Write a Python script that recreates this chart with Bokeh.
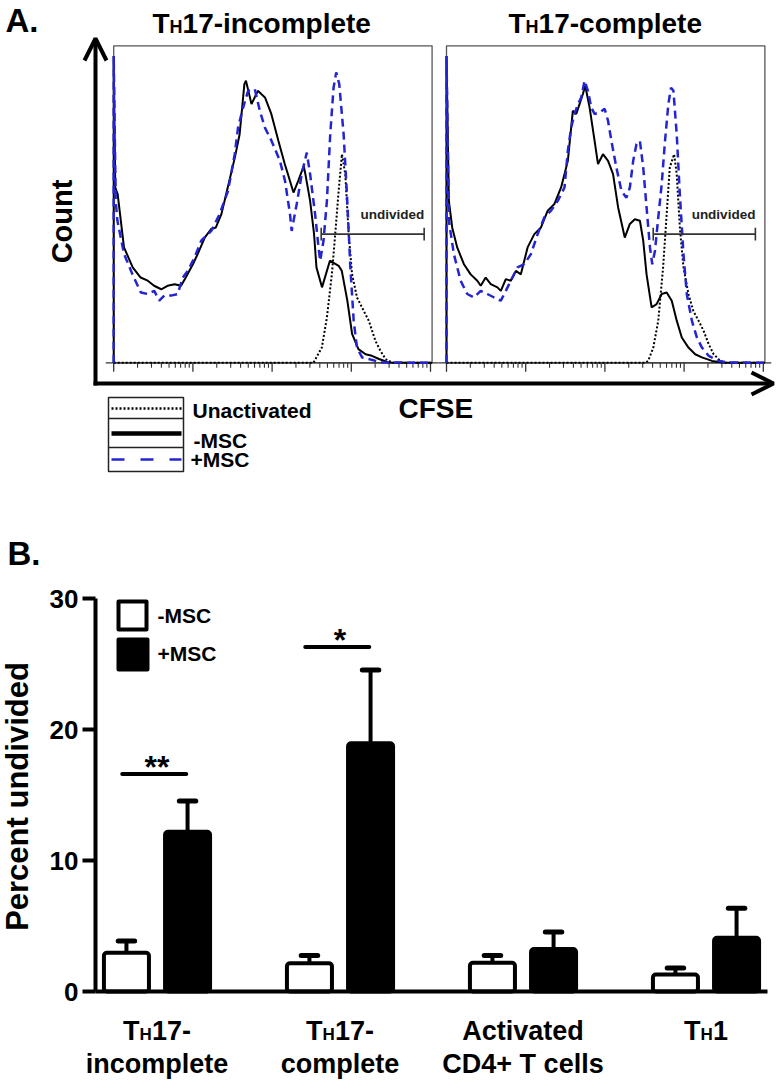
import math
from bokeh.plotting import figure
from bokeh.models import Range1d, Arrow, OpenHead, LinearAxis, FixedTicker
from bokeh.embed import file_html
from bokeh.resources import INLINE
from bokeh.core.properties import value

FONT = "Liberation Sans"
BLUE = "#2424d2"

# ---------------- Panel A data (CFSE in decades, count in % of panel height) ----------------
panel_titles = ["TH17-incomplete", "TH17-complete"]
legend_a = ["Unactivated", "-MSC", "+MSC"]

inc_unact_x = [0.0, 2.522, 2.628, 2.692, 2.755, 2.797, 2.840, 2.882, 2.924, 2.967, 3.009, 3.072,
               3.157, 3.220, 3.263, 3.305, 3.368, 3.432, 3.517, 4.02]
inc_unact_y = [0, 0, 4.8, 14.3, 28.0, 40.6, 54.2, 65.8, 59.5, 40.6, 28.0, 20.6,
               16.4, 13.3, 10.1, 6.9, 3.8, 1.2, 0, 0]

inc_minus_x = [0.0, 0.0, 0.02, 0.05, 0.13, 0.24, 0.34, 0.43, 0.51, 0.60, 0.68, 0.77, 0.85, 0.91, 1.00,
               1.06, 1.15, 1.23, 1.29, 1.36, 1.44, 1.53, 1.59, 1.65, 1.67, 1.74, 1.82, 1.91, 1.99, 2.08,
               2.16, 2.20, 2.27, 2.33, 2.40, 2.42, 2.48, 2.53, 2.56, 2.63, 2.73, 2.84, 2.88, 2.95, 3.01,
               3.09, 3.18, 3.26, 3.35, 3.47, 4.02]
inc_minus_y = [0, 96.8, 55.3, 53.2, 36.4, 30.1, 26.9, 25.9, 24.3, 23.2, 24.3, 24.8, 24.3, 26.9, 31.1,
               34.3, 39.5, 42.2, 42.7, 46.9, 55.3, 64.8, 72.1, 87.9, 89.0, 81.6, 85.8, 83.7, 78.5, 70.0,
               62.7, 59.5, 53.7, 57.4, 62.1, 59.5, 51.1, 40.6, 30.1, 23.8, 32.2, 30.6, 29.0, 19.6, 9.1,
               4.3, 2.7, 2.2, 1.2, 0.1, 0]

inc_plus_x = [0.0, 0.0, 0.025, 0.047, 0.131, 0.237, 0.343, 0.427, 0.512, 0.575, 0.639, 0.723, 0.808,
              0.872, 0.935, 1.020, 1.105, 1.232, 1.337, 1.443, 1.528, 1.570, 1.634, 1.697, 1.782, 1.845,
              1.909, 1.993, 2.099, 2.163, 2.226, 2.247, 2.311, 2.374, 2.438, 2.480, 2.543, 2.586, 2.607,
              2.649, 2.692, 2.734, 2.776, 2.810, 2.848, 2.903, 2.945, 2.988, 3.030, 3.072, 3.136, 3.220,
              3.305, 3.390, 4.02]
inc_plus_y = [0, 96.8, 51.1, 44.8, 34.3, 27.9, 22.2, 21.7, 22.7, 19.6, 21.2, 21.2, 21.7, 26.9, 29.0,
              33.2, 38.5, 41.6, 46.9, 54.2, 65.8, 74.2, 80.5, 85.8, 86.3, 79.5, 74.2, 70.0, 63.7, 57.4,
              46.9, 41.6, 50.1, 59.5, 66.3, 59.5, 46.9, 36.4, 32.2, 38.5, 51.1, 72.1, 86.8, 91.6, 87.9,
              72.1, 53.2, 30.1, 13.3, 4.8, 1.7, 1.2, 0.6, 0.1, 0]

comp_unact_x = [0.0, 2.505, 2.547, 2.611, 2.674, 2.735, 2.780, 2.819, 2.874, 2.907, 2.946, 2.992,
                3.055, 3.116, 3.182, 3.246, 3.310, 3.373, 3.458, 3.517, 4.02]
comp_unact_y = [0, 0, 0.6, 4.8, 13.3, 30.1, 46.9, 61.6, 65.8, 59.5, 42.7, 30.1,
                21.7, 16.4, 13.3, 10.1, 5.9, 2.7, 0.6, 0, 0]

comp_minus_x = [0.0, 0.0, 0.030, 0.072, 0.135, 0.220, 0.305, 0.389, 0.432, 0.495, 0.559, 0.643, 0.686,
                0.749, 0.812, 0.876, 0.939, 1.024, 1.109, 1.193, 1.278, 1.363, 1.447, 1.532, 1.595,
                1.638, 1.680, 1.722, 1.752, 1.807, 1.870, 1.913, 1.976, 2.040, 2.103, 2.167, 2.251,
                2.315, 2.378, 2.442, 2.484, 2.526, 2.590, 2.653, 2.717, 2.780, 2.844, 2.907, 2.971,
                3.055, 3.140, 3.225, 3.352, 3.478, 4.02]
comp_minus_y = [0, 96.8, 51.1, 42.7, 36.4, 31.1, 27.9, 25.9, 24.3, 26.9, 24.8, 23.8, 22.7, 26.4, 25.9,
                29.0, 27.9, 36.4, 40.6, 42.7, 48.0, 50.1, 55.3, 63.7, 79.5, 78.5, 81.6, 84.8, 87.4,
                80.5, 70.0, 62.7, 65.8, 63.7, 59.5, 49.0, 39.5, 43.8, 45.3, 44.8, 38.5, 27.9, 17.5,
                18.5, 21.7, 22.2, 19.6, 13.3, 8.0, 4.8, 2.7, 1.7, 0.6, 0.1, 0]

comp_plus_x = [0.0, 0.0, 0.030, 0.093, 0.178, 0.262, 0.347, 0.432, 0.516, 0.601, 0.686, 0.749, 0.812,
               0.897, 0.982, 1.066, 1.151, 1.236, 1.320, 1.405, 1.490, 1.532, 1.574, 1.617, 1.659,
               1.701, 1.744, 1.786, 1.828, 1.870, 1.934, 1.997, 2.040, 2.082, 2.145, 2.209, 2.272,
               2.315, 2.357, 2.399, 2.442, 2.484, 2.526, 2.569, 2.598, 2.632, 2.674, 2.717, 2.759,
               2.801, 2.835, 2.865, 2.907, 2.946, 2.992, 3.034, 3.098, 3.161, 3.225, 3.310, 3.437,
               3.560, 4.02]
comp_plus_y = [0, 96.8, 44.8, 34.3, 25.9, 21.7, 20.6, 22.7, 21.7, 20.6, 19.6, 22.7, 25.9, 30.1, 31.1,
               34.3, 40.6, 45.9, 48.0, 51.1, 55.3, 66.9, 74.2, 78.5, 81.6, 83.7, 89.0, 85.8, 80.5,
               78.5, 79.0, 80.1, 76.3, 70.0, 61.6, 54.2, 52.1, 55.3, 63.7, 69.0, 70.0, 61.6, 49.0,
               36.4, 31.1, 35.3, 45.9, 56.3, 70.0, 81.6, 86.8, 85.8, 72.1, 53.2, 34.3, 21.7, 13.3,
               8.0, 4.8, 2.2, 0.6, 0.1, 0]

gate_lo = [2.62, 2.61]
gate_hi = [3.92, 3.90]
gate_level = [40.6, 40.6]
gate_label = "undivided"

# ---------------- Panel B data ----------------
categories = ["TH17-\nincomplete", "TH17-\ncomplete", "Activated\nCD4+ T cells", "TH1"]
series = ["-MSC", "+MSC"]
minus_vals = [2.95, 2.15, 2.2, 1.3]
minus_err = [0.9, 0.6, 0.55, 0.5]
plus_vals = [12.2, 18.95, 3.25, 4.1]
plus_err = [2.35, 5.6, 1.3, 2.25]
sig_groups = [0, 1]
sig_level = [16.6, 26.3]
sig_text = ["**", "*"]
y_ticks = [0, 10, 20, 30]
y_title = "Percent undivided"

# ---------------- helpers ----------------
W = {' ': 278, '+': 584, '-': 333, '.': 278, '*': 389, 'A': 722, 'B': 722, 'C': 722, 'D': 722,
     'E': 667, 'F': 611, 'H': 722, 'M': 833, 'P': 667, 'S': 667, 'T': 611, 'U': 722, 'a': 556,
     'c': 556, 'd': 611, 'e': 556, 'i': 278, 'l': 278, 'm': 889, 'n': 611, 'o': 611, 'p': 611,
     'r': 389, 's': 556, 't': 333, 'u': 611, 'v': 556}
CAPMID = 0.36  # cap-centre height above the baseline, in em


def tw(s, size):
    return sum(W.get(c, 556) for c in s) * size / 1000.0


def th_text(p, x, base, s, size, align="center", **kw):
    """Text whose leading 'TH' is written T + small H (base = baseline in page px)."""
    if s.startswith("TH"):
        pieces = [("T", size), ("H", round(size * 0.64)), (s[2:], size)]
    else:
        pieces = [(s, size)]
    total = sum(tw(t, sz) for t, sz in pieces)
    off = -total / 2 if align == "center" else 0
    for t, sz in pieces:
        p.text(x=[x], y=[base - CAPMID * sz], text=[t], x_offset=off, text_align="left",
               text_baseline="middle", text_font=value(FONT), text_font_style="bold",
               text_font_size=f"{sz}px", text_color="black", **kw)
        off += tw(t, sz)


def plain_text(p, x, base, s, size, align="left", angle=0, mid=None, **kw):
    y = mid if mid is not None else base - CAPMID * size
    p.text(x=[x], y=[y], text=[s], text_align=align, text_baseline="middle", angle=angle,
           text_font=value(FONT), text_font_style="bold", text_font_size=f"{size}px",
           text_color="black", **kw)


# ---------------- one canvas, page-pixel main ranges ----------------
PW, PH = 777, 1082
p = figure(width=PW, height=PH, x_range=Range1d(0, PW), y_range=Range1d(PH, 0),
           output_backend="svg", toolbar_location=None, tools="", x_axis_location=None,
           y_axis_location=None, min_border=0, title=None, outline_line_color=None)
p.background_fill_color = "white"
p.border_fill_color = "white"
p.xgrid.visible = False
p.ygrid.visible = False

# --- histogram scales (panel A) ---
HX0 = [113.2, 446.0]
HXS = 79.2
HY0, HYS = 362.3, 3.17
# --- bar chart scales (panel B) ---
BX0, BXS = 156.5, 183.0
BY0, BYS = 991.0, 13.1

p.extra_x_ranges = {
    "h0": Range1d((0 - HX0[0]) / HXS, (PW - HX0[0]) / HXS),
    "h1": Range1d((0 - HX0[1]) / HXS, (PW - HX0[1]) / HXS),
    "bx": Range1d((0 - BX0) / BXS, (PW - BX0) / BXS),
}
p.extra_y_ranges = {
    "hy": Range1d((HY0 - PH) / HYS, HY0 / HYS),
    "by": Range1d((BY0 - PH) / BYS, BY0 / BYS),
}

styles = {
    "Unactivated": dict(line_color="black", line_dash="2 2", line_width=2),
    "-MSC": dict(line_color="black", line_width=2),
    "+MSC": dict(line_color=BLUE, line_dash="8 5", line_width=2.5),
}
curves = [
    [(inc_unact_x, inc_unact_y), (inc_minus_x, inc_minus_y), (inc_plus_x, inc_plus_y)],
    [(comp_unact_x, comp_unact_y), (comp_minus_x, comp_minus_y), (comp_plus_x, comp_plus_y)],
]
BOX_R = 4.02
for i in range(2):
    rk = dict(x_range_name=f"h{i}", y_range_name="hy")
    p.quad(left=[0], right=[BOX_R], bottom=[0], top=[100], fill_color=None,
           line_color="#555555", line_width=1.3, **rk)
    p.segment(x0=[-0.1], y0=[0], x1=[BOX_R + 0.08], y1=[0], line_color="#333333", line_width=1.3, **rk)
    majors = [0, 1, 2, 3, 4]
    minors = [d + math.log10(k) for d in range(4) for k in range(2, 10)]
    p.segment(x0=majors, y0=[0] * 5, x1=majors, y1=[-9 / HYS] * 5, line_color="#333333",
              line_width=1.3, **rk)
    p.segment(x0=minors, y0=[0] * len(minors), x1=minors, y1=[-5 / HYS] * len(minors),
              line_color="#333333", line_width=1.1, **rk)
    for name, (xs, ys) in zip(legend_a, curves[i]):
        p.line(xs, ys, **styles[name], **rk)
    p.segment(x0=[gate_lo[i]], y0=[gate_level[i]], x1=[gate_hi[i]], y1=[gate_level[i]],
              line_color="#333333", line_width=1.6, **rk)
    gx = [gate_lo[i], gate_hi[i]]
    p.segment(x0=gx, y0=[gate_level[i] - 2.0] * 2, x1=gx, y1=[gate_level[i] + 2.0] * 2,
              line_color="#333333", line_width=1.6, **rk)
    p.text(x=[gate_hi[i]], y=[gate_level[i]], text=[gate_label], y_offset=-20, text_align="right",
           text_baseline="middle", text_font=value(FONT), text_font_style="bold",
           text_font_size="13.5px", text_color="#222222", **rk)

th_text(p, 152, 33, panel_titles[0], 28, align="left")
th_text(p, 508, 33, panel_titles[1], 28, align="left")

p.add_layout(Arrow(end=OpenHead(size=22, line_width=4, line_color="black"), x_start=95, y_start=385,
                   x_end=95, y_end=38, line_width=4, line_color="black"))
p.add_layout(Arrow(end=OpenHead(size=22, line_width=4, line_color="black"), x_start=93, y_start=383,
                   x_end=773, y_end=383, line_width=4, line_color="black"))

plain_text(p, 5, 32, "A.", 33)
plain_text(p, 7, 565, "B.", 33)
plain_text(p, 61, None, "Count", 29, align="center", angle=math.pi / 2, mid=221)
plain_text(p, 398, 418, "CFSE", 28)

# legend of panel A
p.quad(left=[108], right=[183], top=[397], bottom=[471], fill_color=None, line_color="#222222",
       line_width=1.5)
p.segment(x0=[108, 108], y0=[418, 447], x1=[183, 183], y1=[418, 447], line_color="#222222",
          line_width=1.3)
leg_over = {"Unactivated": dict(line_width=2.5), "-MSC": dict(line_width=4.5),
            "+MSC": dict(line_dash="13 16", line_width=2.5)}
for name, yy in zip(legend_a, [408, 433, 459]):
    st = dict(styles[name])
    st.update(leg_over[name])
    p.segment(x0=[111], y0=[yy], x1=[181], y1=[yy], **st)
for name, xx, yy in zip(legend_a, [192, 193, 190], [418, 448, 467]):
    plain_text(p, xx, yy, name, 21)

# ---------------- Panel B: bar chart ----------------
bk = dict(x_range_name="bx", y_range_name="by")
yax = LinearAxis(x_range_name="bx", y_range_name="by", fixed_location=(95 - BX0) / BXS,
                 bounds=(0, 30), ticker=FixedTicker(ticks=y_ticks))
yax.minor_tick_line_color = None
yax.major_tick_in = 0
yax.major_tick_out = 13
yax.major_tick_line_width = 4
yax.major_tick_line_color = "black"
yax.axis_line_width = 4
yax.axis_line_color = "black"
yax.major_label_standoff = 4
yax.major_label_text_font = FONT
yax.major_label_text_font_style = "bold"
yax.major_label_text_font_size = "26px"
yax.major_label_text_color = "black"
p.add_layout(yax, "left")

xax = LinearAxis(x_range_name="bx", y_range_name="by", fixed_location=0,
                 bounds=((95 - BX0) / BXS, (767 - BX0) / BXS), ticker=FixedTicker(ticks=[]))
xax.axis_line_width = 4
xax.axis_line_color = "black"
xax.major_tick_line_color = None
xax.minor_tick_line_color = None
xax.major_label_text_font_size = "0px"
p.add_layout(xax, "below")

idx = list(range(len(categories)))
DODGE, BW = 0.167, 0.246
xm = [i - DODGE for i in idx]
xp = [i + DODGE for i in idx]
CAP = 0.045
for xs, vals, errs, fill in [(xm, minus_vals, minus_err, "white"), (xp, plus_vals, plus_err, "black")]:
    tops = [v + e for v, e in zip(vals, errs)]
    p.segment(x0=xs, y0=vals, x1=xs, y1=tops, line_color="black", line_width=4, **bk)
    p.segment(x0=[x - CAP for x in xs], y0=tops, x1=[x + CAP for x in xs], y1=tops,
              line_color="black", line_width=5, line_cap="round", **bk)
    p.vbar(x=xs, top=vals, bottom=0, width=BW, fill_color=fill, line_color="black", line_width=4,
           line_join="round", border_radius=3, **bk)

p.segment(x0=[g - 0.19 for g in sig_groups], y0=sig_level, x1=[g + 0.16 for g in sig_groups],
          y1=sig_level, line_color="black", line_width=4, line_cap="round", **bk)
p.text(x=sig_groups, y=sig_level, text=sig_text, y_offset=-7, text_align="center",
       text_baseline="middle", text_font=value(FONT), text_font_style="bold",
       text_font_size="32px", text_color="black", **bk)

# legend of panel B
p.rect(x=[132], y=[615], width=28, height=28, fill_color="white", line_color="black",
       line_width=4, line_join="round")
p.rect(x=[132.5], y=[654], width=29, height=30, fill_color="black", line_color="black",
       line_width=4, line_join="round")
for s, yy in zip(series, [615, 653]):
    plain_text(p, 157, None, s, 21, mid=yy)

# category labels (x through the bar scale, y in page px)
for i, cat in enumerate(categories):
    for j, line in enumerate(cat.split("\n")):
        th_text(p, i, 1040 + 33 * j, line, 27, align="center", x_range_name="bx")

plain_text(p, 17, None, y_title, 31, align="center", angle=math.pi / 2, mid=796)

open("out.html", "w").write(file_html(p, INLINE))
